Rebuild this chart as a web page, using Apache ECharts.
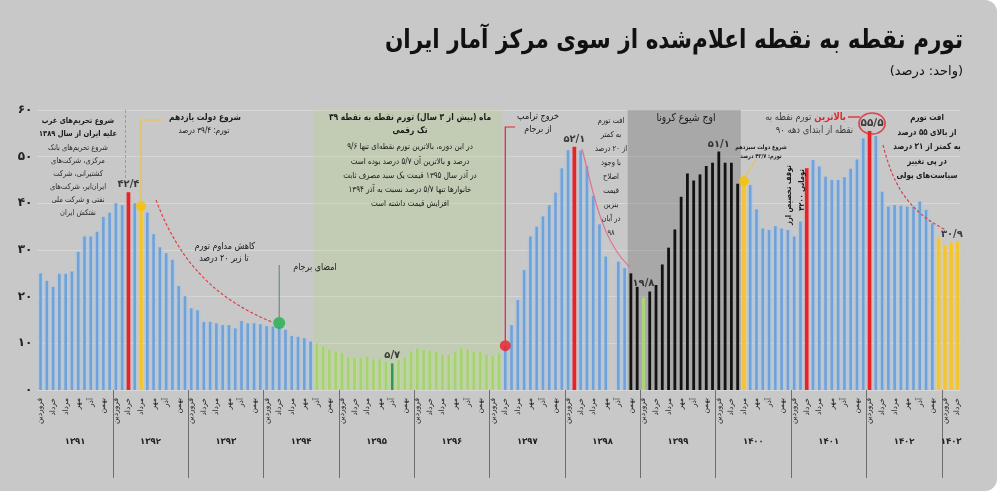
<!DOCTYPE html>
<html>
<head>
<meta charset="utf-8">
<title>تورم نقطه به نقطه</title>
<script src="https://cdn.jsdelivr.net/npm/echarts@6.0.0/dist/echarts.min.js"></script>
<style>
  html, body { margin: 0; padding: 0; background: #ffffff; }
  #card { position: absolute; left: 0; top: 0; width: 997px; height: 491px; background: #c8c8c8; border-radius: 0 12px 12px 0; }
  #chart { position: absolute; left: 0; top: 0; width: 1000px; height: 496px; }
</style>
</head>
<body>
<div id="card"></div>
<div id="chart"></div>
<script>
var years = ['۱۳۹۱', '۱۳۹۲', '۱۳۹۳', '۱۳۹۴', '۱۳۹۵', '۱۳۹۶', '۱۳۹۷', '۱۳۹۸', '۱۳۹۹', '۱۴۰۰', '۱۴۰۱', '۱۴۰۲', '۱۴۰۳'];
var monthNames = ['فروردین', 'اردیبهشت', 'خرداد', 'تیر', 'مرداد', 'شهریور', 'مهر', 'آبان', 'آذر', 'دی', 'بهمن', 'اسفند'];

// تورم نقطه به نقطه ماهانه (درصد)
var y1391 = [25.0, 23.4, 22.1, 24.9, 24.9, 25.4, 29.6, 32.9, 32.9, 33.9, 37.1, 38.0];
var y1392 = [40.0, 39.6, 42.4, 40.0, 39.4, 38.0, 33.4, 30.6, 29.3, 27.9, 22.3, 20.1];
var y1393 = [17.5, 17.1, 14.6, 14.6, 14.3, 13.9, 13.9, 13.2, 14.8, 14.3, 14.3, 14.1];
var y1394 = [13.7, 13.6, 13.5, 12.9, 11.6, 11.4, 11.1, 10.4, 10.0, 9.3, 8.6, 8.2];
var y1395 = [7.9, 7.1, 6.8, 6.8, 7.1, 6.6, 6.6, 6.1, 5.7, 6.4, 7.0, 8.2];
var y1396 = [8.9, 8.6, 8.4, 8.2, 7.5, 7.5, 8.2, 8.9, 8.7, 8.2, 8.2, 7.5];
var y1397 = [7.3, 7.9, 9.5, 13.9, 19.3, 25.7, 32.9, 35.0, 37.2, 39.6, 42.3, 47.5];
var y1398 = [51.4, 52.1, 51.3, 48.0, 41.6, 35.5, 28.6, null, 27.5, 26.1, 25.0, 22.1];
var y1399 = [19.8, 21.1, 22.5, 26.9, 30.5, 34.4, 41.4, 46.4, 44.9, 46.2, 48.0, 48.7];
var y1400 = [51.1, 48.7, 48.7, 44.2, 44.8, 43.9, 38.7, 34.6, 34.3, 35.1, 34.6, 34.3];
var y1401 = [32.9, 36.1, 47.5, 49.3, 47.9, 45.7, 45.0, 45.0, 45.6, 47.4, 49.4, 53.9];
var y1402 = [55.5, 54.4, 42.5, 39.3, 39.6, 39.5, 39.3, 39.3, 40.4, 38.6, 35.7, 32.5];
var y1403 = [30.9, 31.6, 31.9];
var yearValues = [y1391, y1392, y1393, y1394, y1395, y1396, y1397, y1398, y1399, y1400, y1401, y1402, y1403];

var yMin = 0, yMax = 60, yStep = 10;

// index of highlighted months (0 = فروردین ۱۳۹۱)
var redBars = [14, 85, 122, 132];
var yellowBars = [16, 112, 143, 144, 145, 146];
var greenPeriod = [44, 73];
var darkGreenBars = [56];
var coronaPeriod = [94, 111];
var coronaGreenBars = [96];
var labelBars = [14, 56, 85, 96, 108, 144];
var circleBar = 132;

var categories = [];
var inflation = [];
var yearStarts = [];
yearValues.forEach(function (vals, yi) {
    yearStarts.push(inflation.length);
    vals.forEach(function (v, mi) {
        categories.push(monthNames[mi] + ' ' + years[yi]);
        inflation.push(v);
    });
});
// مرز سال‌ها و وسط هر سال روی محور سال
var yearBounds = yearStarts.slice(1);
var yearMids = yearStarts.map(function (s, yi) { return s + yearValues[yi].length / 2; });

var FONT = 'DejaVu Sans';
var fa = function (x) {
    return String(x).replace(/\./g, '/').replace(/[0-9]/g, function (d) { return '۰۱۲۳۴۵۶۷۸۹'[d]; });
};

var kindStyle = {
    blue: { core: '#6ea2db', coreW: 2.6, halo: 'rgba(170,198,228,0.55)', haloW: 0.9 },
    green: { core: '#a5d36d', coreW: 2.6, halo: 'rgba(190,222,150,0.45)', haloW: 0.9 },
    darkgreen: { core: '#2f9a55', coreW: 2.6, halo: 'rgba(190,222,150,0.45)', haloW: 0.9 },
    black: { core: '#121212', coreW: 2.8, halo: null },
    coronagreen: { core: '#a9d47a', coreW: 3.4, halo: null },
    red: { core: '#e5232a', coreW: 3.6, halo: 'rgba(235,150,150,0.3)', haloW: 0.9 },
    yellow: { core: '#f4c431', coreW: 3.6, halo: 'rgba(245,215,120,0.4)', haloW: 0.9 }
};

var kindOf = function (i) {
    if (redBars.indexOf(i) >= 0) return 'red';
    if (yellowBars.indexOf(i) >= 0) return 'yellow';
    if (darkGreenBars.indexOf(i) >= 0) return 'darkgreen';
    if (coronaGreenBars.indexOf(i) >= 0) return 'coronagreen';
    if (i >= greenPeriod[0] && i <= greenPeriod[1]) return 'green';
    if (i >= coronaPeriod[0] && i <= coronaPeriod[1]) return 'black';
    return 'blue';
};

var regionColors = ['rgba(175,220,110,0.22)', 'rgba(80,80,80,0.27)'];

var chartDom = document.getElementById('chart');
var myChart = echarts.init(chartDom, null, { renderer: 'canvas' });

var option = {
    animation: false,
    textStyle: { fontFamily: FONT },
    grid: [
        { left: 37.4, right: 39.4, top: 110, bottom: 106, containLabel: false, outerBoundsMode: 'none' },
        // شبکه باریک برای محور سال‌ها، هم‌تراز با خط صفر
        { left: 37.4, right: 39.4, top: 389, height: 1, containLabel: false, outerBoundsMode: 'none' }
    ],
    xAxis: [
        {
            type: 'category', gridIndex: 0, data: categories, boundaryGap: true,
            axisLine: { show: false }, axisTick: { show: false }, splitLine: { show: false },
            axisLabel: {
                interval: 1, rotate: 90, margin: 8, fontSize: 7.5, color: '#222', fontFamily: FONT,
                formatter: function (v) { return v.split(' ')[0]; }
            }
        },
        {
            type: 'value', gridIndex: 1, min: 0, max: categories.length, position: 'bottom',
            axisLine: { show: false }, splitLine: { show: false },
            axisTick: {
                show: true, length: 88, customValues: yearBounds,
                lineStyle: { color: '#6e6e6e', width: 1 }
            },
            axisLabel: {
                margin: 47, fontSize: 8.5, fontWeight: 'bold', color: '#222', fontFamily: FONT,
                customValues: yearMids,
                formatter: function (v) {
                    var k = yearMids.indexOf(v);
                    return k >= 0 ? years[k] : '';
                }
            }
        }
    ],
    yAxis: [
        {
            type: 'value', gridIndex: 0, min: yMin, max: yMax, interval: yStep,
            axisLine: { show: false }, axisTick: { show: false },
            axisLabel: { margin: 5, fontSize: 12, fontWeight: 'bold', color: '#222', fontFamily: FONT, formatter: fa },
            splitLine: { lineStyle: { color: 'rgba(255,255,255,0.28)', width: 1 } }
        },
        { type: 'value', gridIndex: 1, show: false }
    ],
    series: [
        {
            // پس‌زمینه دوره تک‌رقمی و دوره کرونا
            type: 'custom', name: 'دوره‌ها', xAxisIndex: 0, yAxisIndex: 0, silent: true, z: 1,
            data: [[greenPeriod[0], greenPeriod[1], yMin, yMax], [coronaPeriod[0], coronaPeriod[1], yMin, yMax]],
            encode: { x: [0, 1], y: [2, 3] },
            renderItem: function (params, api) {
                var band = api.size([1, 0])[0];
                var p0 = api.coord([api.value(0), api.value(3)]);
                var p1 = api.coord([api.value(1), api.value(2)]);
                return {
                    type: 'rect',
                    shape: { x: p0[0] - band / 2, y: p0[1], width: p1[0] - p0[0] + band, height: p1[1] - p0[1] },
                    style: { fill: regionColors[params.dataIndex] }
                };
            }
        },
        {
            type: 'custom', name: 'تورم نقطه به نقطه', xAxisIndex: 0, yAxisIndex: 0, z: 2,
            data: inflation.map(function (v, i) { return [i, v]; }),
            encode: { x: 0, y: 1 },
            renderItem: function (params, api) {
                var v = api.value(1);
                if (v == null || isNaN(v)) return null;
                var i = api.value(0);
                var top = api.coord([i, v]);
                var base = api.coord([i, 0]);
                var band = api.size([1, 0])[0];
                var st = kindStyle[kindOf(i)];
                var h = base[1] - top[1];
                var children = [];
                if (st.halo) {
                    children.push({ type: 'rect', shape: { x: top[0] - band * st.haloW / 2, y: top[1], width: band * st.haloW, height: h }, style: { fill: st.halo } });
                }
                children.push({ type: 'rect', shape: { x: top[0] - st.coreW / 2, y: top[1], width: st.coreW, height: h }, style: { fill: st.core } });
                return { type: 'group', children: children };
            }
        },
        {
            // نقاط رویدادها
            type: 'scatter', name: 'رویدادها', xAxisIndex: 0, yAxisIndex: 0, z: 6, silent: true,
            data: [
                { value: [16, inflation[16]], symbolSize: 10, itemStyle: { color: '#f6c200' } },
                { value: [38, inflation[38]], symbolSize: 12, symbolOffset: [0, -4], itemStyle: { color: '#1fae4b' } },
                { value: [74, inflation[74]], symbolSize: 11, itemStyle: { color: '#ec1c24' } },
                { value: [112, inflation[112]], symbolSize: 10, itemStyle: { color: '#f6c200' } }
            ]
        },
        {
            type: 'scatter', name: 'برچسب‌ها', xAxisIndex: 0, yAxisIndex: 0, z: 7, silent: true,
            symbolSize: 1, itemStyle: { color: 'rgba(0,0,0,0)' },
            label: {
                show: true, position: 'top', distance: 2, fontSize: 10, fontWeight: 'bold', color: '#141414', fontFamily: FONT,
                formatter: function (p) { return fa(p.value[1]); }
            },
            data: labelBars.map(function (i) {
                var item = { value: [i, inflation[i]] };
                if (i === 96) item.label = { distance: 9 };
                if (i === 144) item.label = { offset: [7, -4] };
                return item;
            }).concat([{
                value: [circleBar, inflation[circleBar]], symbol: 'circle', symbolSize: [26, 21], symbolOffset: [2.5, -7.5],
                itemStyle: { color: 'rgba(0,0,0,0)', borderColor: '#e3262d', borderWidth: 1.6 },
                label: { position: 'inside', distance: 0, fontSize: 10.5 }
            }])
        }
    ]
};

option && myChart.setOption(option);

// موقعیت پیکسلی هر ماه برای خطوط راهنما
var pt = function (i) {
    return myChart.convertToPixel({ gridIndex: 0 }, [i, inflation[i]]);
};

var measureCtx = document.createElement('canvas').getContext('2d');
var fontOf = function (size, bold) {
    return (bold ? 'bold ' : '') + size + 'px "' + FONT + '"';
};
var textWidth = function (str, size, bold) {
    measureCtx.font = fontOf(size, bold);
    return measureCtx.measureText(str).width;
};

var SX = 0.84;
var text = function (x, y, str, size, o) {
    o = o || {};
    return {
        type: 'text', x: x, y: y, rotation: o.rotation || 0, scaleX: o.sx || SX, silent: true, z: 100,
        style: {
            text: str, fill: o.color || '#1a1a1a',
            font: fontOf(size, o.bold),
            align: o.align || 'center', verticalAlign: o.vAlign || 'middle',
            lineHeight: o.lineHeight || Math.round(size * 1.45)
        }
    };
};
var line = function (points, color, width, dash) {
    return { type: 'polyline', silent: true, z: 90, shape: { points: points }, style: { stroke: color, lineWidth: width, lineDash: dash || null, fill: null } };
};
var curve = function (c, color, dash) {
    return {
        type: 'bezierCurve', silent: true, z: 90,
        shape: { x1: c[0], y1: c[1], cpx1: c[2], cpy1: c[3], cpx2: c[4], cpy2: c[5], x2: c[6], y2: c[7] },
        style: { stroke: color, lineWidth: 1.2, lineDash: dash || null, fill: null }
    };
};

var pRouhani = pt(16), pBarjam = pt(38), pTrump = pt(74), pRaisi = pt(112), p424 = pt(14);
var redWordRight = 846;
var redWordW = textWidth('بالاترین', 10, true) * SX;

var elements = [
    text(963, 41, 'تورم نقطه به نقطه اعلام‌شده از سوی مرکز آمار ایران', 26, { bold: true, align: 'right', color: '#111', sx: 0.83 }),
    text(963, 72, '(واحد: درصد)', 13, { align: 'right', color: '#111', sx: 1 }),

    text(78, 114, 'شروع تحریم‌های غرب\nعلیه ایران از سال ۱۳۸۹', 8, { bold: true, vAlign: 'top', lineHeight: 13 }),
    text(78, 141, 'شروع تحریم‌های بانک\nمرکزی، شرکت‌های\nکشتیرانی، شرکت\nایران‌ایر، شرکت‌های\nنفتی و شرکت ملی\nنفتکش ایران', 8, { vAlign: 'top', lineHeight: 13, color: '#2a2a2a' }),
    line([[p424[0] - 3, 110], [p424[0] - 3, 178]], '#9a9a9a', 1, [3, 2]),

    line([[pRouhani[0], pRouhani[1] - 5], [pRouhani[0], 120], [163, 120]], '#f2c230', 1.2),
    text(205, 118, 'شروع دولت یازدهم', 9, { bold: true }),
    text(204, 131, 'تورم: ۳۹/۴ درصد', 8.5),

    curve([156, 200, 175, 250, 205, 295, 272, 322], '#d8434a', [3, 2]),
    text(225, 247, 'کاهش مداوم تورم', 9.5),
    text(224, 259, 'تا زیر ۲۰ درصد', 9.5),

    line([[pBarjam[0], pBarjam[1] - 10], [pBarjam[0], 265]], '#5e7f74', 1),
    text(315, 268, 'امضای برجام', 9.5),

    text(410, 118, '۳۹ ماه (بیش از ۳ سال) تورم نقطه به نقطه', 9, { bold: true }),
    text(410, 131, 'تک رقمی', 9, { bold: true }),
    text(410, 140, 'در این دوره، بالاترین تورم نقطه‌ای تنها ۹/۶\nدرصد و بالاترین آن ۵/۷ درصد بوده است\nدر آذر سال ۱۳۹۵ قیمت یک سبد مصرف ثابت\nخانوارها تنها ۵/۷ درصد نسبت به آذر ۱۳۹۴\nافزایش قیمت داشته است', 8.5, { vAlign: 'top', lineHeight: 14.2 }),

    line([[pTrump[0], pTrump[1] - 5], [pTrump[0], 127], [515, 127]], '#e0262b', 1.2),
    text(538, 117, 'خروج ترامپ', 9.5),
    text(538, 130, 'از برجام', 9.5),

    text(611, 114, 'افت تورم\nبه کمتر\nاز ۲۰ درصد\nبا وجود\nاصلاح\nقیمت\nبنزین\nدر آبان\n۹۸', 8, { vAlign: 'top', lineHeight: 14 }),
    curve([582, 149, 592, 185, 600, 240, 630, 267], '#e0708e'),

    text(686, 118, 'اوج شیوع کرونا', 11),

    line([[pRaisi[0] + 2, pRaisi[1] - 5], [pRaisi[0] + 12, 160]], '#f2c230', 1),
    text(761, 147, 'شروع دولت سیزدهم', 6, { bold: true }),
    text(761, 156, 'تورم: ۴۳/۷ درصد', 6, { bold: true }),

    text(redWordRight, 117, 'بالاترین', 10, { bold: true, align: 'right', color: '#e3262d' }),
    text(redWordRight - redWordW - 3, 117, 'تورم نقطه به', 10, { align: 'right', color: '#3c3c3c' }),
    text(853, 130, 'نقطه از ابتدای دهه ۹۰', 10, { align: 'right', color: '#3c3c3c' }),
    line([[redWordRight + 2, 117], [860, 117]], '#e3262d', 1.3),

    text(789, 195, 'توقف تخصیص ارز', 8, { bold: true, rotation: Math.PI / 2 }),
    text(802, 190, '۴۲۰۰ تومانی', 8, { bold: true, rotation: Math.PI / 2 }),

    text(927, 111, 'افت تورم\nاز بالای ۵۵ درصد\nبه کمتر از ۳۱ درصد\nدر پی تغییر\nسیاست‌های پولی', 8.5, { bold: true, vAlign: 'top', lineHeight: 14.5 }),
    curve([883, 145, 892, 180, 905, 210, 946, 230], '#d8434a', [3, 2])
];

myChart.setOption({ graphic: { elements: elements } });

window.addEventListener('resize', function () { myChart.resize(); });
</script>
</body>
</html>
